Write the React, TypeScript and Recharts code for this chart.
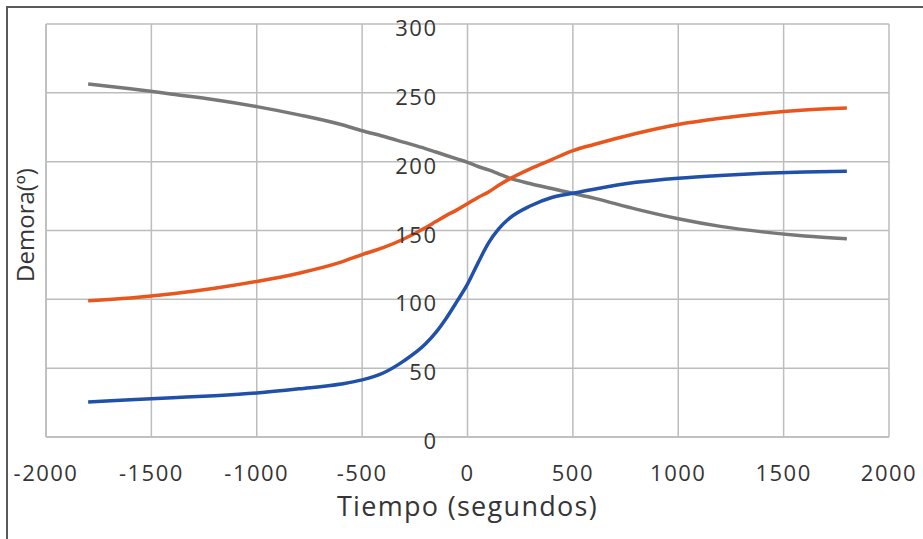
import { LineChart, Line, XAxis, YAxis, CartesianGrid, Label } from 'recharts';

const tiempo = [-1800, -1600, -1400, -1200, -1000, -800, -600, -500, -400, -300, -200, -150, -100, -50, 0, 50, 100, 150, 200, 300, 400, 500, 600, 800, 1000, 1200, 1400, 1600, 1800];

const demoraAzul = [25.5, 27, 28.5, 30, 32, 35, 38.5, 41.5, 46.5, 55.5, 67.5, 76, 86.5, 98.5, 111, 126.5, 141, 151.5, 159, 168, 174, 177, 180, 185, 188, 190, 191.5, 192.5, 193];
const demoraNaranja = [99, 101, 104, 108, 113, 119, 127, 132.5, 137.5, 144, 152, 156.5, 161, 165, 169.5, 174, 178, 183, 187.5, 195, 201.5, 208, 212.5, 220.5, 227, 231.5, 235, 237.5, 239];
const demoraGris = [256.5, 253, 249, 245, 240, 234, 227, 222.5, 218.5, 214, 209.5, 207, 204.5, 202, 199.5, 196.5, 194, 191, 188, 184, 180.5, 177, 173.5, 165.5, 158.5, 153, 149, 146, 144];

const xTicks = [-2000, -1500, -1000, -500, 0, 500, 1000, 1500, 2000];
const yTicks = [0, 50, 100, 150, 200, 250, 300];

const data = tiempo.map((t, i) => ({
  t,
  azul: demoraAzul[i],
  naranja: demoraNaranja[i],
  gris: demoraGris[i],
}));

const W = 923;
const H = 539;
const yAxisW = 46;
const margin = { top: 24, right: 34, left: 0, bottom: 0 };
const xDomain: [number, number] = [-2000, 2000];
const plotW = W - yAxisW - margin.right;
const zeroX = yAxisW + (plotW * (0 - xDomain[0])) / (xDomain[1] - xDomain[0]);

const font = '"Open Sans", sans-serif';
const textColor = '#353535';
const gridColor = '#bdbdbd';

// y tick labels sit just left of the x = 0 line, like Excel's crossing axis
const YTick = (props: any) => {
  const { y, payload } = props;
  return (
    <text
      x={zeroX - 30}
      y={y}
      dy={12}
      textAnchor="end"
      fill={textColor}
      fontSize={22}
      fontFamily={font}
      letterSpacing={1.5}
    >
      {payload.value}
    </text>
  );
};

const YTitle = () => (
  <text
    x={24}
    y={225}
    transform="rotate(-90 24 225)"
    textAnchor="middle"
    dominantBaseline="central"
    fill={textColor}
    fontSize={24}
    fontFamily={font}
  >
    Demora(º)
  </text>
);

export default function App() {
  return (
    <div style={{ position: 'absolute', left: 0, top: 0, width: W, height: H, background: '#fff' }}>
      <div
        style={{
          position: 'absolute',
          left: 6,
          top: 6,
          width: W,
          height: H,
          borderLeft: '2px solid #5a5a5a',
          borderTop: '2px solid #5a5a5a',
        }}
      />
      <div style={{ position: 'absolute', left: 0, top: 0 }}>
        <LineChart width={W} height={H} data={data} margin={margin}>
          <CartesianGrid stroke={gridColor} strokeWidth={1.5} />
          <XAxis
            dataKey="t"
            type="number"
            domain={xDomain}
            ticks={xTicks}
            height={102}
            tickSize={0}
            tickMargin={28}
            axisLine={{ stroke: gridColor, strokeWidth: 1.5 }}
            tickLine={false}
            tick={{ fill: textColor, fontSize: 22, fontFamily: font, letterSpacing: 1.5 }}
            interval={0}
          >
            <Label
              value="Tiempo (segundos)"
              position="insideBottom"
              offset={23}
              fill={textColor}
              fontSize={27}
              fontFamily={font}
              letterSpacing={1.3}
            />
          </XAxis>
          <YAxis
            type="number"
            domain={[0, 300]}
            ticks={yTicks}
            width={yAxisW}
            axisLine={{ stroke: gridColor, strokeWidth: 1.5 }}
            tickLine={false}
            tick={YTick}
            interval={0}
          >
            <Label content={YTitle} />
          </YAxis>
          <Line type="monotone" dataKey="gris" stroke="#787878" strokeWidth={3.5} dot={false} isAnimationActive={false} />
          <Line type="monotone" dataKey="naranja" stroke="#e8561e" strokeWidth={3.5} dot={false} isAnimationActive={false} />
          <Line type="monotone" dataKey="azul" stroke="#2150a8" strokeWidth={3.5} dot={false} isAnimationActive={false} />
        </LineChart>
      </div>
    </div>
  );
}
